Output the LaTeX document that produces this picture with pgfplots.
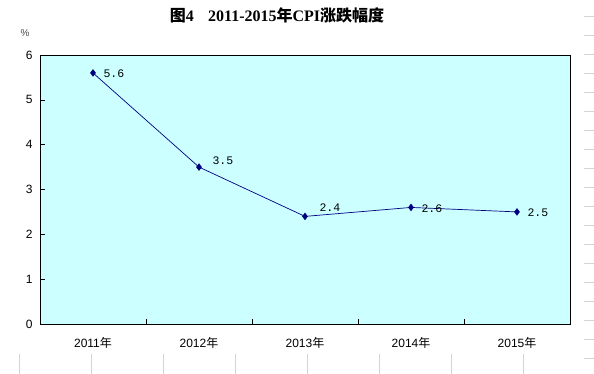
\documentclass[border=0pt]{standalone}
\usepackage{pgfplots}
\pgfplotsset{compat=1.18}
\usepackage{fontspec}
\setmainfont{Liberation Sans}
\newfontfamily\cjk{Noto Sans CJK SC}
\newfontfamily\lmono{Liberation Mono}
\newfontfamily\lserif{Liberation Serif}
\definecolor{bgcyan}{HTML}{CCFFFF}
\definecolor{navy}{HTML}{000080}
\definecolor{deco}{HTML}{D4D4D4}
\begin{document}
\begin{tikzpicture}[x=1pt,y=1pt]
\path[use as bounding box] (0,0) rectangle (594,374);
% decorative spreadsheet lines
\foreach \yy in {16,35,54,73,92,111,130,149,168,187,206,225,244,263,282,301,320,339,358}
  \draw[deco,line width=0.8pt] (584,374-\yy) -- (594,374-\yy);
\foreach \xx in {19,91,163,235,307,379,451,523}
  \draw[deco,line width=0.8pt] (\xx,0) -- (\xx,20);
\node[font=\fontsize{16}{18}\selectfont\bfseries] at (277,359) {{\cjk\bfseries 图}\lserif\bfseries 4\hspace{0.9em}2011-2015{\cjk\bfseries 年}CPI{\cjk\bfseries 涨跌幅度}};
\node[font=\fontsize{10}{12}\selectfont, text=black!70] at (25,341) {\%};
\begin{axis}[
  name=ax,
  anchor=south west,
  at={(40pt,50pt)},
  scale only axis, width=530pt, height=269pt,
  xmin=-0.5, xmax=4.5, ymin=0, ymax=6,
  axis background/.style={fill=bgcyan},
  axis line style={black, line width=0.9pt},
  ytick={0,1,2,3,4,5,6},
  ytick pos=left, xtick pos=bottom,
  tick align=inside,
  major tick length=5pt,
  tick style={black, line width=0.6pt},
  xtick={0.5,1.5,2.5,3.5},
  xticklabels={},
  extra x ticks={0,1,2,3,4},
  extra x tick labels={2011{\cjk 年},2012{\cjk 年},2013{\cjk 年},2014{\cjk 年},2015{\cjk 年}},
  extra x tick style={major tick length=0pt, tick label style={yshift=-10pt}},
  tick label style={font=\fontsize{12}{14}\selectfont},
  /pgf/number format/assume math mode=true,
  yticklabel style={xshift=-4pt},
  clip=false,
]
\addplot[navy, line width=0.7pt, mark=diamond*, mark size=3.2pt, mark options={fill=navy, draw=navy}]
  coordinates {(0,5.6) (1,3.5) (2,2.4) (3,2.6) (4,2.5)};
\addplot[draw=none, nodes near coords, point meta=explicit symbolic,
  nodes near coords style={anchor=west, font=\lmono\fontsize{11.5}{12}\selectfont, xshift=7pt, yshift=-1pt}]
  coordinates {(0,5.6) [5.6]};
\addplot[draw=none, nodes near coords, point meta=explicit symbolic,
  nodes near coords style={anchor=west, font=\lmono\fontsize{11.5}{12}\selectfont, xshift=10pt, yshift=6pt}]
  coordinates {(1,3.5) [3.5]};
\addplot[draw=none, nodes near coords, point meta=explicit symbolic,
  nodes near coords style={anchor=west, font=\lmono\fontsize{11.5}{12}\selectfont, xshift=11pt, yshift=9pt}]
  coordinates {(2,2.4) [2.4]};
\addplot[draw=none, nodes near coords, point meta=explicit symbolic,
  nodes near coords style={anchor=west, font=\lmono\fontsize{11.5}{12}\selectfont, xshift=7pt, yshift=-1pt}]
  coordinates {(3,2.6) [2.6]};
\addplot[draw=none, nodes near coords, point meta=explicit symbolic,
  nodes near coords style={anchor=west, font=\lmono\fontsize{11.5}{12}\selectfont, xshift=7pt, yshift=-1pt}]
  coordinates {(4,2.5) [2.5]};
\end{axis}
\end{tikzpicture}
\end{document}
